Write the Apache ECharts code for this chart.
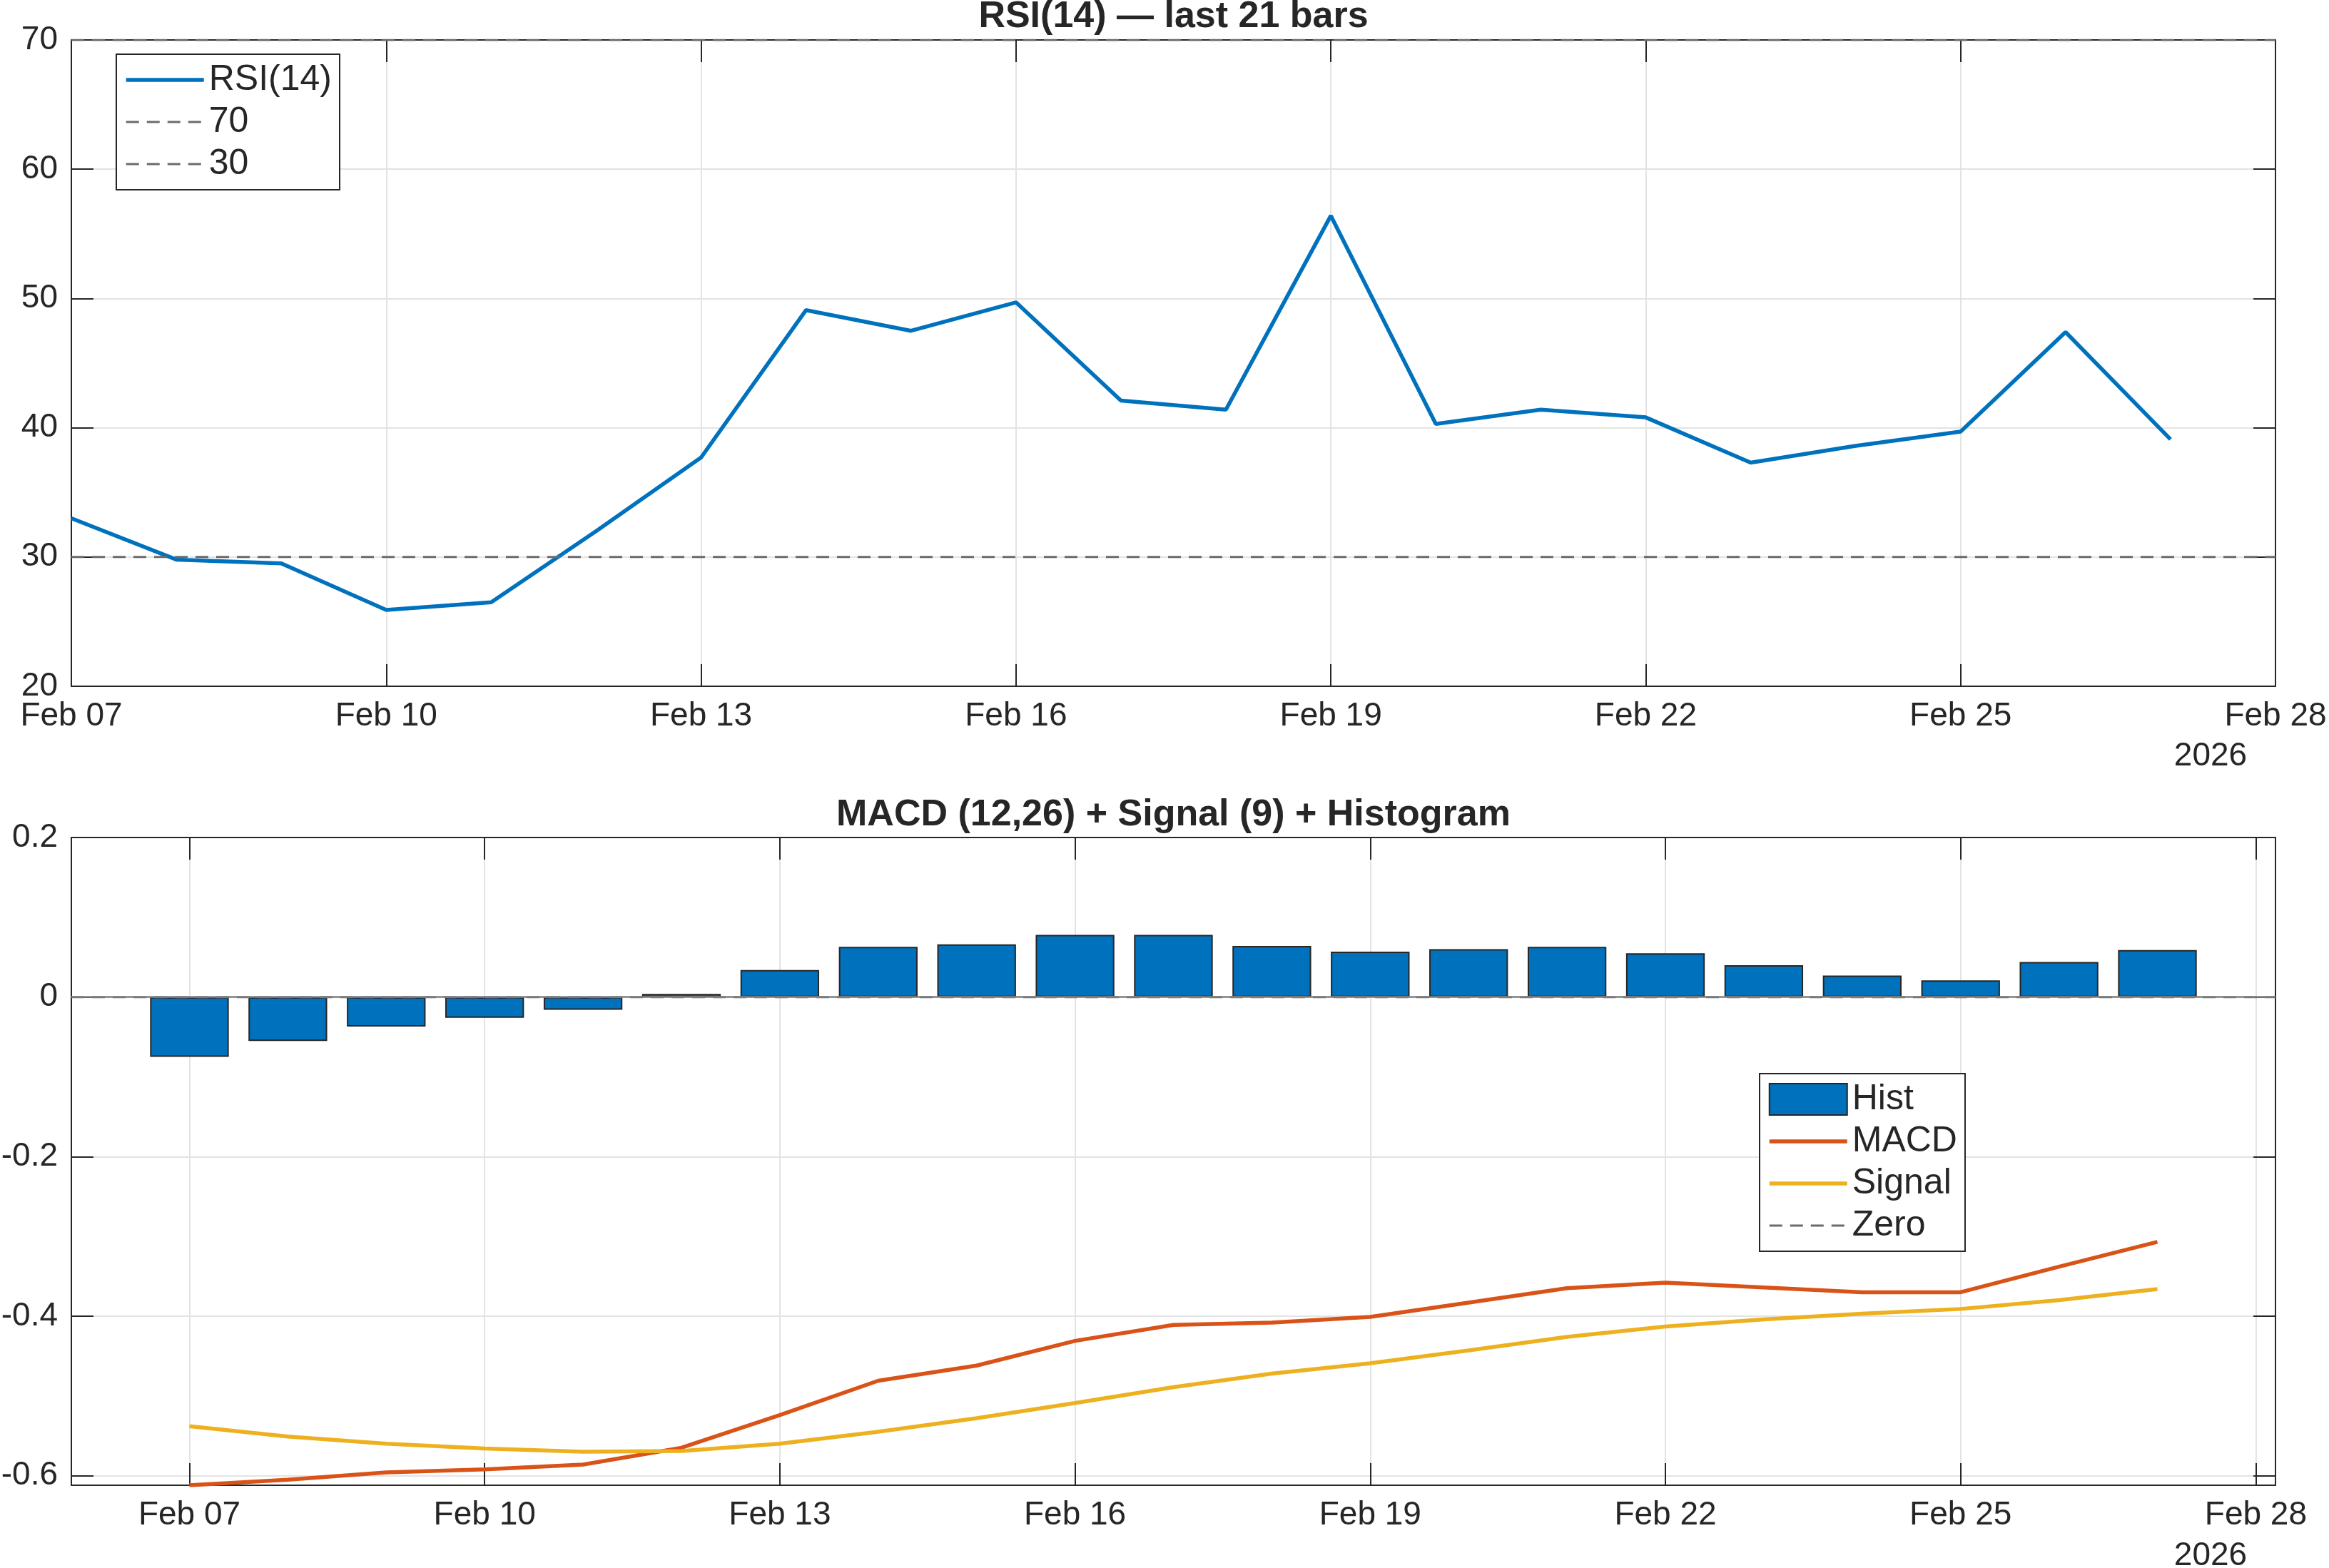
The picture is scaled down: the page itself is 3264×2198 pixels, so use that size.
<!DOCTYPE html>
<html>
<head>
<meta charset="utf-8">
<script src="https://cdn.jsdelivr.net/npm/echarts@6/dist/echarts.min.js"></script>
<style>
  html, body { margin: 0; padding: 0; background: #fff; }
  #chart { width: 3264px; height: 2198px; }
</style>
</head>
<body>
<div id="chart"></div>
<script>
// bar dates (day offsets from Feb 07 are the x values)
const dates = ['Feb 07', 'Feb 08', 'Feb 09', 'Feb 10', 'Feb 11', 'Feb 12', 'Feb 13',
  'Feb 14', 'Feb 15', 'Feb 16', 'Feb 17', 'Feb 18', 'Feb 19', 'Feb 20', 'Feb 21',
  'Feb 22', 'Feb 23', 'Feb 24', 'Feb 25', 'Feb 26', 'Feb 27'];
const tickLabels = ['Feb 07', 'Feb 10', 'Feb 13', 'Feb 16', 'Feb 19', 'Feb 22', 'Feb 25', 'Feb 28'];
const tickDays = [0, 3, 6, 9, 12, 15, 18, 21];

const rsi = [33.0, 29.8, 29.5, 25.9, 26.5, 32.0, 37.7, 49.1, 47.5, 49.7, 42.1,
  41.4, 56.4, 40.3, 41.4, 40.8, 37.3, 38.6, 39.7, 47.4, 39.1];
const rsiLevels = [70, 30];

const hist = [-0.075, -0.055, -0.037, -0.026, -0.016, 0.004, 0.034, 0.063, 0.066, 0.078, 0.078,
  0.064, 0.057, 0.060, 0.063, 0.055, 0.040, 0.027, 0.021, 0.044, 0.059];
const macd = [-0.612, -0.605, -0.596, -0.592, -0.586, -0.565, -0.524, -0.481, -0.462, -0.431, -0.411,
  -0.408, -0.401, -0.383, -0.365, -0.358, -0.364, -0.370, -0.370, -0.338, -0.307];
const signal = [-0.538, -0.551, -0.560, -0.566, -0.570, -0.569, -0.560, -0.545, -0.528, -0.509, -0.489,
  -0.472, -0.459, -0.443, -0.426, -0.413, -0.404, -0.397, -0.391, -0.380, -0.366];
const macdYTicks = [-0.6, -0.4, -0.2, 0, 0.2];

const FONT = "'Liberation Sans', Arial, sans-serif";
const INK = '#262626';
const GRIDC = '#e3e3e3';
const BLUE = '#0072BD', ORANGE = '#D95319', YELLOW = '#EDB120', DASH = '#6b6b6b';
const LW = 5.5, DW = 3, DASHES = [18, 11];

const plotW = 3089;
const xMinB = -1.2, xMaxB = 21.2;
const barW = 0.8 * plotW / (xMaxB - xMinB);

const xy = vals => vals.map((v, i) => [i, v]);
const tickFmt = v => tickLabels[tickDays.indexOf(Math.round(v))] || '';

function xAx(gridIndex, min, max, bottom, custom) {
  const ax = {
    type: 'value', gridIndex, min, max,
    position: bottom ? 'bottom' : 'top',
    axisLine: { show: true, onZero: false, lineStyle: { color: INK, width: 2 } },
    axisTick: { show: true, inside: true, length: 31, lineStyle: { color: INK, width: 2 } },
    axisLabel: {
      show: bottom, margin: 19, color: INK, fontSize: 46, fontFamily: FONT,
      formatter: tickFmt, showMinLabel: true, showMaxLabel: true, hideOverlap: false
    },
    splitLine: { show: bottom, lineStyle: { color: GRIDC, width: 2 } }
  };
  if (custom) {
    ax.axisTick.customValues = tickDays;
    ax.axisLabel.customValues = tickDays;
  } else {
    ax.interval = 3;
  }
  return ax;
}

function yAx(gridIndex, min, max, left, ticks, fmt) {
  const ax = {
    type: 'value', gridIndex, min, max,
    position: left ? 'left' : 'right',
    axisLine: { show: true, onZero: false, lineStyle: { color: INK, width: 2 } },
    axisTick: { show: true, inside: true, length: 31, lineStyle: { color: INK, width: 2 } },
    axisLabel: {
      show: left, margin: 19, color: INK, fontSize: 46, fontFamily: FONT,
      formatter: fmt, showMinLabel: true, showMaxLabel: true, hideOverlap: false
    },
    splitLine: { show: left, lineStyle: { color: GRIDC, width: 2 } }
  };
  if (ticks) {
    ax.axisTick.customValues = ticks;
    ax.axisLabel.customValues = ticks;
  } else {
    ax.interval = 10;
  }
  return ax;
}

const lineItem = (name, color, width, type) => ({
  name,
  itemStyle: { opacity: 0 },
  lineStyle: { color, width, type, opacity: 1 }
});

const legendBase = {
  orient: 'vertical', selectedMode: false,
  padding: 11, borderWidth: 2, borderColor: INK, backgroundColor: '#fff',
  itemWidth: 109, itemHeight: 44, itemGap: 9,
  textStyle: { color: INK, fontSize: 50, fontFamily: FONT, lineHeight: 46, padding: [0, 0, 0, 2] }
};

const chart = echarts.init(document.getElementById('chart'), null, { renderer: 'canvas' });

chart.setOption({
  animation: false,
  backgroundColor: '#fff',
  grid: [
    { left: 100, top: 56, width: plotW, height: 906, outerBoundsMode: 'none', containLabel: false },
    { left: 100, top: 1174, width: plotW, height: 908, outerBoundsMode: 'none', containLabel: false }
  ],
  xAxis: [
    xAx(0, 0, 21, true, false),
    xAx(0, 0, 21, false, false),
    xAx(1, xMinB, xMaxB, true, true),
    xAx(1, xMinB, xMaxB, false, true)
  ],
  yAxis: [
    yAx(0, 20, 70, true, null, v => String(v)),
    yAx(0, 20, 70, false, null, v => String(v)),
    yAx(1, -0.612, 0.2, true, macdYTicks, v => String(Math.round(v * 10) / 10)),
    yAx(1, -0.612, 0.2, false, macdYTicks, v => String(v))
  ],
  legend: [
    Object.assign({}, legendBase, {
      left: 163, top: 76,
      data: [
        lineItem('RSI(14)', BLUE, LW, 'solid'),
        lineItem('70', DASH, DW, DASHES),
        lineItem('30', DASH, DW, DASHES)
      ]
    }),
    Object.assign({}, legendBase, {
      left: 2466, top: 1505,
      data: [
        { name: 'Hist', icon: 'rect', itemStyle: { color: BLUE, borderColor: INK, borderWidth: 2 } },
        lineItem('MACD', ORANGE, LW, 'solid'),
        lineItem('Signal', YELLOW, LW, 'solid'),
        lineItem('Zero', DASH, DW, DASHES)
      ]
    })
  ],
  graphic: [
    { type: 'text', x: 1644.5, y: 24, silent: true,
      style: { text: 'RSI(14) \u2014 last 21 bars', font: "bold 52px " + FONT, fill: INK,
        textAlign: 'center', textVerticalAlign: 'middle' } },
    { type: 'text', x: 1644.5, y: 1143, silent: true,
      style: { text: 'MACD (12,26) + Signal (9) + Histogram', font: "bold 52px " + FONT, fill: INK,
        textAlign: 'center', textVerticalAlign: 'middle' } },
    { type: 'text', x: 3098, y: 1060, silent: true,
      style: { text: '2026', font: "46px " + FONT, fill: INK, textAlign: 'center', textVerticalAlign: 'middle' } },
    { type: 'text', x: 3098, y: 2181, silent: true,
      style: { text: '2026', font: "46px " + FONT, fill: INK, textAlign: 'center', textVerticalAlign: 'middle' } }
  ],
  series: [
    {
      name: 'RSI(14)', type: 'line', xAxisIndex: 0, yAxisIndex: 0,
      data: xy(rsi), symbol: 'none', lineStyle: { color: BLUE, width: LW }, itemStyle: { color: BLUE }
    },
    {
      name: '70', type: 'line', xAxisIndex: 0, yAxisIndex: 0,
      data: [[0, rsiLevels[0]], [21, rsiLevels[0]]], symbol: 'none',
      lineStyle: { color: DASH, width: DW, type: DASHES }, itemStyle: { color: DASH }
    },
    {
      name: '30', type: 'line', xAxisIndex: 0, yAxisIndex: 0,
      data: [[0, rsiLevels[1]], [21, rsiLevels[1]]], symbol: 'none',
      lineStyle: { color: DASH, width: DW, type: DASHES }, itemStyle: { color: DASH }
    },
    {
      name: 'Hist', type: 'bar', xAxisIndex: 2, yAxisIndex: 2,
      data: xy(hist), barWidth: barW,
      itemStyle: { color: BLUE, borderColor: INK, borderWidth: 2 },
      markLine: {
        silent: true, symbol: 'none', label: { show: false },
        lineStyle: { color: '#808080', width: 2.5, type: 'solid' },
        data: [{ yAxis: 0 }]
      }
    },
    {
      name: 'MACD', type: 'line', xAxisIndex: 2, yAxisIndex: 2,
      data: xy(macd), symbol: 'none', lineStyle: { color: ORANGE, width: LW }, itemStyle: { color: ORANGE }
    },
    {
      name: 'Signal', type: 'line', xAxisIndex: 2, yAxisIndex: 2,
      data: xy(signal), symbol: 'none', lineStyle: { color: YELLOW, width: LW }, itemStyle: { color: YELLOW }
    },
    {
      name: 'Zero', type: 'line', xAxisIndex: 2, yAxisIndex: 2,
      data: [[xMinB, 0], [xMaxB, 0]], symbol: 'none',
      lineStyle: { color: DASH, width: DW, type: DASHES }, itemStyle: { color: DASH }
    }
  ]
});
</script>
</body>
</html>
